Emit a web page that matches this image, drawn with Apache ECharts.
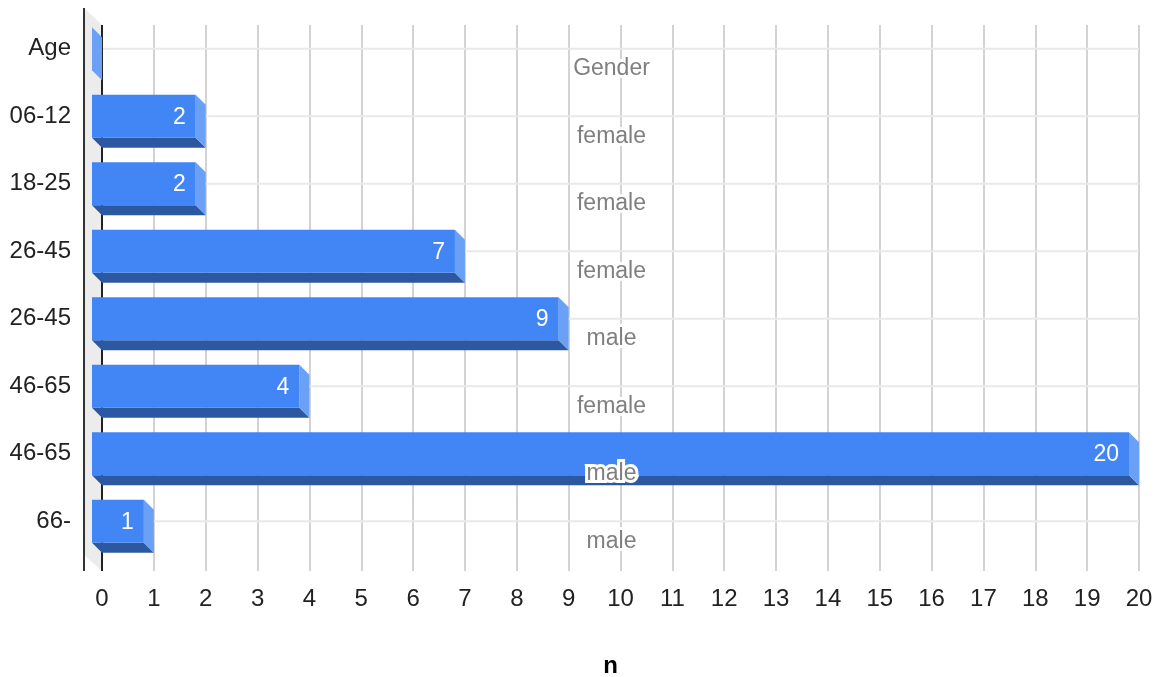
<!DOCTYPE html>
<html>
<head>
<meta charset="utf-8">
<script src="https://cdn.jsdelivr.net/npm/echarts@6/dist/echarts.min.js"></script>
<style>
  html, body { margin: 0; padding: 0; background: #fff; }
  #chart { width: 1164px; height: 677px; }
</style>
</head>
<body>
<div id="chart"></div>
<script>
// Respondents per age group, with the gender noted for each row
const categories = ['Age', '06-12', '18-25', '26-45', '26-45', '46-65', '46-65', '66-'];
const counts = [0, 2, 2, 7, 9, 4, 20, 1];
const genders = ['Gender', 'female', 'female', 'female', 'male', 'female', 'male', 'male'];
const axisMin = 0;
const axisMax = 20;

const FONT = '"Liberation Sans", Arial, Helvetica, sans-serif';
const DEPTH = 10;              // 3D extrusion of each bar (px)
const BACK = { left: 102, right: 25, top: 25, bottom: 106 };   // back wall plane
const FRONT = { left: 92, right: 35, top: 15, bottom: 122 };   // front plane for bars
const COLORS = { front: '#4285f4', side: '#6aa0f6', bottom: '#2c58a2' };

const chart = echarts.init(document.getElementById('chart'), null, { renderer: 'canvas' });

// Horizontal row lines on the back wall
function renderRowLine(params, api) {
  const i = api.value(1);
  const a = api.coord([axisMin, i]);
  const b = api.coord([axisMax, i]);
  const shift = BACK.left - FRONT.left;
  return {
    type: 'line',
    shape: { x1: a[0] + shift, y1: a[1], x2: b[0] + shift, y2: b[1] },
    style: { stroke: '#e9e9e9', lineWidth: 2 }
  };
}

// Extruded bar: front face, bottom face, right side face and value label
function renderBar(params, api) {
  const v = api.value(0);
  const i = api.value(1);
  const start = api.coord([axisMin, i]);
  const end = api.coord([v, i]);
  const band = api.size([0, 1])[1];
  const h = band * 0.637;
  const x0 = start[0], x1 = end[0];
  const y0 = start[1] - h / 2, y1 = start[1] + h / 2;
  const d = DEPTH;
  const children = [
    {
      type: 'polygon',
      shape: { points: [[x0, y1], [x1, y1], [x1 + d, y1 + d], [x0 + d, y1 + d]] },
      style: { fill: COLORS.bottom }
    },
    {
      type: 'polygon',
      shape: { points: [[x1, y0], [x1 + d, y0 + d], [x1 + d, y1 + d], [x1, y1]] },
      style: { fill: COLORS.side }
    },
    {
      type: 'rect',
      shape: { x: x0, y: y0, width: x1 - x0, height: h },
      style: { fill: COLORS.front }
    }
  ];
  if (v > 0) {
    children.push({
      type: 'text',
      x: x1 - 10,
      y: start[1] + 1,
      style: {
        text: String(v),
        fill: '#fff',
        font: '23px ' + FONT,
        align: 'right',
        verticalAlign: 'middle'
      }
    });
  }
  return { type: 'group', children: children };
}

// Gender note under each row
function renderGender(params, api) {
  const i = api.value(1);
  const p = api.coord([(axisMin + axisMax) / 2, i]);
  return {
    type: 'text',
    x: p[0] + 1,
    y: p[1] + 20,
    style: {
      text: genders[params.dataIndex],
      fill: '#7f7f7f',
      font: '23px ' + FONT,
      align: 'center',
      verticalAlign: 'middle',
      stroke: '#fff',
      lineWidth: 6
    }
  };
}

const W = 1164, H = 677;
const wallFrontX = 84, wallFrontTop = 8, wallFrontBottom = 555;
const wallBackX = BACK.left, wallBackTop = BACK.top, wallBackBottom = H - BACK.bottom;

chart.setOption({
  animation: false,
  backgroundColor: '#fff',
  textStyle: { fontFamily: FONT },
  grid: [
    { left: BACK.left, right: BACK.right, top: BACK.top, bottom: BACK.bottom, outerBoundsMode: 'none', containLabel: false },
    { left: FRONT.left, right: FRONT.right, top: FRONT.top, bottom: FRONT.bottom, outerBoundsMode: 'none', containLabel: false }
  ],
  graphic: {
    elements: [
      {
        type: 'polygon', z: 1, silent: true,
        shape: { points: [[wallFrontX, wallFrontTop], [wallBackX, wallBackTop], [wallBackX, wallBackBottom], [wallFrontX, wallFrontBottom]] },
        style: { fill: '#ececec' }
      },
      {
        type: 'line', z: 1, silent: true,
        shape: { x1: wallFrontX, y1: wallFrontTop, x2: wallFrontX, y2: wallBackBottom },
        style: { stroke: '#333', lineWidth: 2 }
      },
      {
        type: 'line', z: 2, silent: true,
        shape: { x1: wallBackX, y1: wallBackTop, x2: wallBackX, y2: wallBackBottom },
        style: { stroke: '#222', lineWidth: 2 }
      }
    ]
  },
  xAxis: [
    {
      gridIndex: 0, type: 'value', min: axisMin, max: axisMax, interval: 1,
      axisLine: { show: false }, axisTick: { show: false },
      splitLine: { show: true, lineStyle: { color: '#d3d3d3', width: 2 } },
      axisLabel: { color: '#222', fontSize: 24, margin: 16, fontFamily: FONT }
    },
    {
      gridIndex: 1, type: 'value', min: axisMin, max: axisMax, interval: 1,
      axisLine: { show: false }, axisTick: { show: false },
      splitLine: { show: false }, axisLabel: { show: false },
      name: 'n', nameLocation: 'middle', nameGap: 99,
      nameTextStyle: { fontSize: 24, fontWeight: 'bold', color: '#000', fontFamily: FONT }
    }
  ],
  yAxis: [
    { gridIndex: 0, type: 'category', inverse: true, data: categories, show: false },
    {
      gridIndex: 1, type: 'category', inverse: true, data: categories,
      axisLine: { show: false }, axisTick: { show: false }, splitLine: { show: false },
      axisLabel: { color: '#222', fontSize: 24, margin: 21, fontFamily: FONT }
    }
  ],
  series: [
    {
      type: 'custom', name: 'rows', xAxisIndex: 1, yAxisIndex: 1, z: 1, silent: true,
      renderItem: renderRowLine,
      encode: { x: 0, y: 1 },
      data: categories.map((c, i) => [axisMin, i])
    },
    {
      type: 'custom', name: 'n', xAxisIndex: 1, yAxisIndex: 1, z: 3,
      renderItem: renderBar,
      encode: { x: 0, y: 1 },
      data: counts.map((v, i) => [v, i])
    },
    {
      type: 'custom', name: 'Gender', xAxisIndex: 1, yAxisIndex: 1, z: 4, silent: true,
      renderItem: renderGender,
      encode: { x: 0, y: 1 },
      data: genders.map((g, i) => [axisMin, i])
    }
  ]
});
</script>
</body>
</html>
